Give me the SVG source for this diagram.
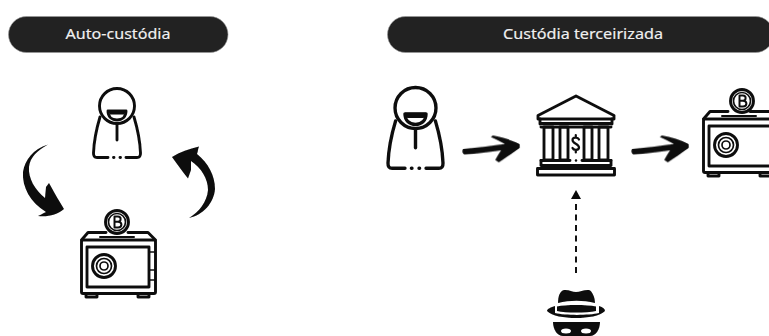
<svg xmlns="http://www.w3.org/2000/svg" xmlns:xlink="http://www.w3.org/1999/xlink" width="769" height="336" viewBox="0 0 769 336">
<style>
.pill{fill:#222222;stroke:#999;stroke-width:.6}
.lbl{font-family:"Noto Sans","Open Sans",sans-serif;font-size:14.500px;fill:#f0f0f0;text-anchor:middle;stroke:#f0f0f0;stroke-width:.15}
.ln{fill:none;stroke:#111;stroke-width:2.900;stroke-linecap:round;stroke-linejoin:round}
.th{fill:none;stroke:#111;stroke-width:1.700;stroke-linecap:round;stroke-linejoin:round}
.k{fill:#0a0a0a}
.soft{filter:url(#b)}
</style>
<defs>
<filter id="b" x="-5%" y="-5%" width="110%" height="110%"><feGaussianBlur stdDeviation="0.4"/></filter>
<g id="person">
<circle class="ln" cx="117" cy="106" r="17.500"/>
<path class="ln" d="M108 111H126C126 117 122 120 117 120C112 120 108 117 108 111Z"/>
<path class="k" d="M108 110H126C125.500 112 125 113 124 114.500H110C109 113 108.500 112 108 110Z"/>
<path class="ln" d="M117 124V140"/>
<path class="ln" d="M100 117C97 127 94 140 93.500 153C93.400 156 94.500 157.500 97 157.500H108M126 157.500H137C139.500 157.500 140.600 156 140.500 153C140 140 137 127 134 117"/>
<path class="ln" d="M113.500 157.500H114M120 157.500H120.500"/>
</g>
<g id="coin">
<circle class="ln" cx="117" cy="222" r="11.500"/>
<circle class="th" cx="117" cy="222" r="8.500"/>
<path class="ln" style="stroke-width:2" d="M114.500 216.500V227.500M114.500 216.500H118C121.500 216.500 121.500 221.700 118 221.700H114.500M118 221.700C122.500 221.700 122.500 227.500 118 227.500H114.500"/>
</g>
<g id="safe">
<path class="ln" d="M81.500 240L88 232.500H106M128 232.500H148L155.500 240"/>
<path class="ln" style="stroke-width:2" d="M100 237H134"/>
<rect class="ln" x="81.500" y="240" width="74" height="53.500" rx="1.500"/>
<rect class="ln" x="87" y="247" width="62" height="40"/>
<path class="th" d="M149 252H155M149 270H155M149 280H155"/>
<circle class="ln" cx="104" cy="266" r="11.500"/>
<circle class="th" cx="104" cy="266" r="7.500"/>
<circle class="th" cx="104" cy="266" r="4"/>
<path class="ln" d="M86 293.500V297H97V293.500M138 293.500V297H149V293.500"/>
</g>
<path id="brush" class="k" d="M0 4C16 3 30 1 42 -.2C37 -3 32 -5.500 28 -7.500L30 -9C39 -7.500 49 -4 56.500 0C56.800 2 56.800 3 56.500 4C49 9 42 14 35.500 18L32 15.500C34 12 36 9 38 6C28 7 14 9 1 9.500C-1 8 -1 5.500 0 4Z"/>
</defs>
<g id="header-auto"><rect class="pill" x="8.500" y="16.500" width="219.500" height="36" rx="18"/><text class="lbl" x="118" y="38.500" textLength="105" lengthAdjust="spacingAndGlyphs">Auto-custódia</text></g>
<g id="header-terceirizada"><rect class="pill" x="387.500" y="16.500" width="386" height="36" rx="18"/><text class="lbl" x="583" y="38.500" textLength="160" lengthAdjust="spacingAndGlyphs">Custódia terceirizada</text></g>
<g id="person-self" class="soft"><use xlink:href="#person" href="#person"/></g>
<g id="safe-self" class="soft"><use xlink:href="#coin" href="#coin"/><use xlink:href="#safe" href="#safe"/></g>
<g id="person-third" class="soft"><use xlink:href="#person" href="#person" transform="translate(415.500 108) scale(1.170) translate(-117 -106)"/></g>
<g id="safe-third" class="soft"><use xlink:href="#coin" href="#coin" transform="translate(625 -121)"/><use xlink:href="#safe" href="#safe" transform="translate(622 -121)"/></g>
<g id="bank" class="soft">
<path class="ln" d="M576 96L538 115.500V119H614V115.500Z"/>
<path class="ln" d="M541 123.500H611"/><path class="ln" d="M540 119V124M612 119V124"/>
<path class="ln" d="M544 127H553V160H544ZM560 127H568V160H560ZM584 127H592V160H584ZM599 127H608V160H599Z"/>
<path class="ln" d="M541 127H611M541 160.500H570M582 160.500H611"/>
<path class="ln" d="M541 160.500V165.500H611V160.500"/>
<rect class="ln" x="537.500" y="168.500" width="77" height="6.500"/>
<path class="ln" style="stroke-width:2.200" d="M579 139.500C578 137 572.500 137 572.500 140C572.500 144 579 143.500 579 147.500C579 150.500 573.500 150.500 572.500 148M575.800 135V137M575.800 150V152.500"/>
<circle class="k" cx="576" cy="160.500" r="1.200"/>
</g>
<g id="spy" class="soft">
<path class="k" d="M558 303C558 296 560 291 564 290C569 289.500 572 292 576 292C580 292 584 289.500 589 290C592 291 595 297 595 303C583 300 570 300 558 303Z"/>
<path class="k" d="M557 306.500C566 304.500 586 304.500 596 306.500V311C586 313 566 313 557 311Z"/>
<path class="k" d="M555 306V313C565 315.500 589 315.500 599 313V306C603 307 605 309 605 311C600 316 588 318 576 318C564 318 552 316 547 311C547 309 551 307 555 306Z"/>
<path class="k" d="M553 322H600C600 329 596 336 590 336H563C557 336 553 329 553 322Z"/>
<ellipse cx="566" cy="331" rx="5" ry="2.500" fill="#fff"/>
<ellipse cx="586" cy="331" rx="5" ry="2.500" fill="#fff"/>
</g>
<g id="connectors">
<use class="soft" xlink:href="#brush" href="#brush" transform="translate(463 145) rotate(-1)"/>
<use class="soft" xlink:href="#brush" href="#brush" transform="translate(632 145) rotate(-1)"/>
<path class="k soft" d="M48 144.500C33 149 25 160 23 172C22 187 30 202 46 212C42 214 40 215 38 216C48 217 57 215 64 209C59 201 54 192 49 183L46 187L45 198C35 190 28 178 29 167C30 157 38 150 48 144.500Z"/>
<path class="k soft" d="M189 218C203 215 214 203 215 189C215 175 208 163 197 154C198 151 198 149 199 146.500C189 149 180 152 172 157C177 164 182 171 188 178.500L191 170L191 161C201 168 208 178 208 190C207 202 199 212 189 218Z"/>
<path fill="none" stroke="#111" stroke-width="2" stroke-dasharray="6 4.500" d="M576 273V200"/>
<path class="k" d="M576 190L581 199H571Z"/>
</g>
</svg>
